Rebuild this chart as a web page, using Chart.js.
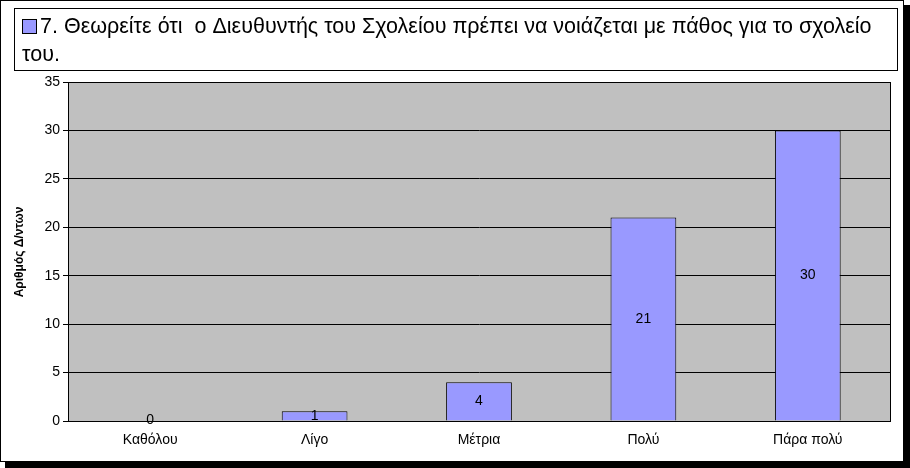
<!DOCTYPE html>
<html><head><meta charset="utf-8">
<script src="https://cdn.jsdelivr.net/npm/chart.js@4"></script>
<style>html,body{margin:0;padding:0;background:#fff}</style>
</head><body>
<div style="width:910px;height:468px"><canvas id="c"></canvas></div>
<script>
var categories = ['Καθόλου', 'Λίγο', 'Μέτρια', 'Πολύ', 'Πάρα πολύ'];
var counts = [0, 1, 4, 21, 30];
var legendLines = ['7. Θεωρείτε ότι  ο Διευθυντής του Σχολείου πρέπει να νοιάζεται με πάθος για το σχολείο', 'του.'];
var yTitle = 'Αριθμός Δ/ντων';

var decor = {
  id: 'decor',
  beforeDraw: function (chart) {
    var ctx = chart.ctx, a = chart.chartArea;
    ctx.save();
    ctx.fillStyle = '#c0c0c0';
    ctx.fillRect(a.left, a.top, a.right - a.left, a.bottom - a.top);
    ctx.restore();
  },
  afterDraw: function (chart) {
    var ctx = chart.ctx, a = chart.chartArea;
    ctx.save();
    ctx.strokeStyle = '#000';
    ctx.lineWidth = 1;
    ctx.strokeRect(a.left + 0.5, a.top + 0.5, a.right - a.left, a.bottom - a.top);
    // outer frame with shadow
    ctx.strokeRect(0.5, 0.5, 903, 461);
    ctx.fillStyle = '#000';
    ctx.fillRect(904, 5, 6, 463);
    ctx.fillRect(5, 462, 905, 6);
    // legend box
    ctx.fillStyle = '#fff';
    ctx.fillRect(14, 8, 883, 62);
    ctx.strokeRect(14.5, 8.5, 883, 62);
    ctx.fillStyle = '#9999ff';
    ctx.fillRect(22, 19, 14, 14);
    ctx.strokeRect(22.5, 19.5, 14, 14);
    ctx.fillStyle = '#000';
    ctx.font = '21.5px Arial, "Liberation Sans"';
    ctx.textBaseline = 'middle';
    ctx.fillText(legendLines[0], 40, 27);
    ctx.fillText(legendLines[1], 22, 55);
    // y title
    ctx.font = 'bold 12px Arial, "Liberation Sans"';
    ctx.translate(20, 252);
    ctx.rotate(-Math.PI / 2);
    ctx.textAlign = 'center';
    ctx.fillText(yTitle, 0, 0);
    ctx.restore();
    // data labels
    var meta = chart.getDatasetMeta(0);
    ctx.save();
    ctx.font = '14px Arial, "Liberation Sans"';
    ctx.fillStyle = '#000';
    ctx.textAlign = 'center';
    ctx.textBaseline = 'middle';
    meta.data.forEach(function (bar, i) {
      var y = (bar.y + bar.base) / 2;
      if (counts[i] === 0) y = bar.base - 1;
      ctx.fillText(String(counts[i]), bar.x, y);
    });
    ctx.restore();
  }
};

new Chart(document.getElementById('c'), {
  type: 'bar',
  data: {
    labels: categories,
    datasets: [{
      data: counts,
      backgroundColor: '#9999ff',
      borderColor: '#000',
      borderWidth: 1,
      categoryPercentage: 1,
      barPercentage: 0.4
    }]
  },
  options: {
    responsive: true,
    maintainAspectRatio: false,
    animation: false,
    layout: { padding: { top: 82, right: 20, left: 0, bottom: 0 } },
    plugins: { legend: { display: false }, tooltip: { enabled: false } },
    scales: {
      x: {
        grid: { display: false },
        border: { color: '#000' },
        ticks: { color: '#000', font: { family: 'Arial', size: 14 } },
        afterFit: function (s) { s.height = 47; }
      },
      y: {
        min: 0, max: 35,
        ticks: { stepSize: 5, color: '#000', font: { family: 'Arial', size: 14 } },
        grid: { color: '#000', drawTicks: true, tickLength: 5 },
        border: { color: '#000' },
        afterFit: function (s) { s.width = 68; }
      }
    }
  },
  plugins: [decor]
});
</script>
</body></html>
